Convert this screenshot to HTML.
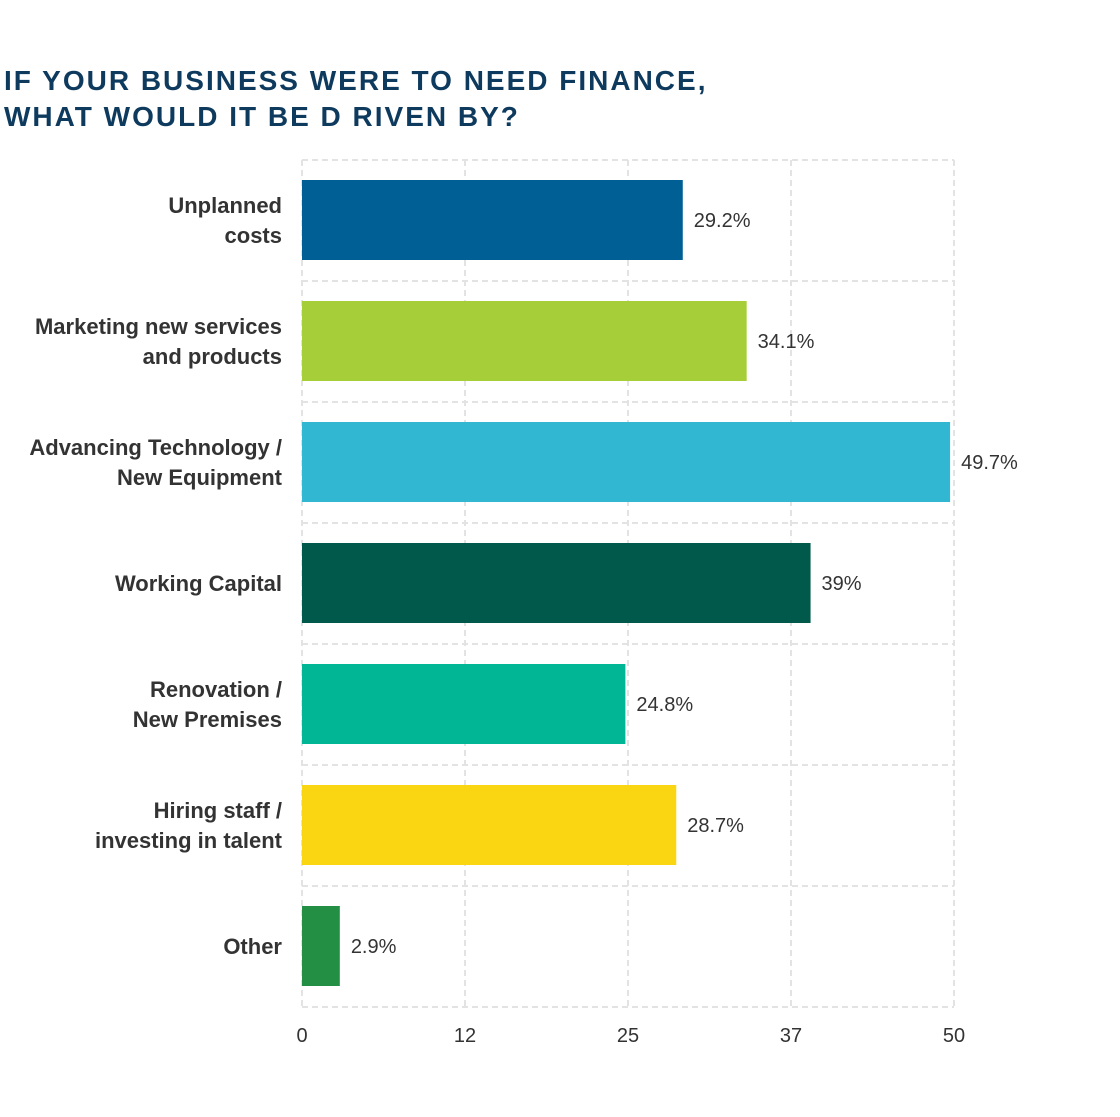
<!DOCTYPE html>
<html><head><meta charset="utf-8"><style>
body{margin:0;background:#fff;}
svg text{font-family:"Liberation Sans",Arial,sans-serif;}
</style></head><body>
<svg width="1120" height="1112" viewBox="0 0 1120 1112" xmlns="http://www.w3.org/2000/svg">
<rect width="1120" height="1112" fill="#fff"/>
<text x="4" y="90" font-size="28" font-weight="bold" fill="#0e3a5e" letter-spacing="2">IF YOUR BUSINESS WERE TO NEED FINANCE,</text>
<text x="4" y="126" font-size="28" font-weight="bold" fill="#0e3a5e" letter-spacing="2">WHAT WOULD IT BE D RIVEN BY?</text>
<g id="grid"></g>
<g id="bars"></g>
<g id="labels"></g>
<g id="ticks"></g>
</svg>
<script>
const categories = [["Unplanned","costs"],["Marketing new services","and products"],["Advancing Technology /","New Equipment"],["Working Capital"],["Renovation /","New Premises"],["Hiring staff /","investing in talent"],["Other"]];
const values = [29.2,34.1,49.7,39,24.8,28.7,2.9];
const valueLabels = ["29.2%","34.1%","49.7%","39%","24.8%","28.7%","2.9%"];
const tickValues = [0,12.5,25,37.5,50];
const tickLabels = ["0","12","25","37","50"];
const colors = ["#006096","#a6ce39","#31b7d1","#00594a","#00b694","#f9d512","#238f44"];

const NS="http://www.w3.org/2000/svg";
const x0=302,x1=954,yTop=160,yBottom=1007,maxV=50;
const band=(yBottom-yTop)/categories.length;
const xs=v=>x0+(v/maxV)*(x1-x0);
function mk(tag,attrs,parent){const e=document.createElementNS(NS,tag);for(const k in attrs)e.setAttribute(k,attrs[k]);parent.appendChild(e);return e;}
const grid=document.getElementById('grid'),bars=document.getElementById('bars'),labels=document.getElementById('labels'),ticks=document.getElementById('ticks');
tickValues.forEach((t,i)=>{
  const l=mk('line',{x1:xs(t),x2:xs(t),y1:yTop,y2:yBottom,stroke:'#e3e3e3','stroke-width':2,'stroke-dasharray':'6,4'},grid);
  
  
  const tx=mk('text',{x:xs(t),y:1042,'font-size':20,fill:'#333','text-anchor':'middle'},ticks);
  tx.textContent=tickLabels[i];
  
  
});
for(let i=0;i<=categories.length;i++){
  const y=yTop+i*band;
  const l=mk('line',{x1:x0,x2:x1,y1:y,y2:y,stroke:'#e3e3e3','stroke-width':2,'stroke-dasharray':'6,4'},grid);
  
  
}
values.forEach((v,i)=>{
  const yb=yTop+i*band+20,h=band-41;
  const r=mk('rect',{x:x0,y:yb,width:xs(v)-x0,height:h,fill:colors[i]},bars);
  
  
  const t=mk('text',{x:xs(v)+11,y:yb+h/2+7,'font-size':20,fill:'#333'},bars);
  t.textContent=valueLabels[i];
  
  
  const lines=categories[i],cy=yb+h/2;
  lines.forEach((s,j)=>{
    const y=cy+8+(j-(lines.length-1)/2)*30;
    const c=mk('text',{x:282,y:y,'font-size':22,'font-weight':'bold',fill:'#333','text-anchor':'end'},labels);
    c.textContent=s;
    
    
  });
});
</script>
</body></html>
